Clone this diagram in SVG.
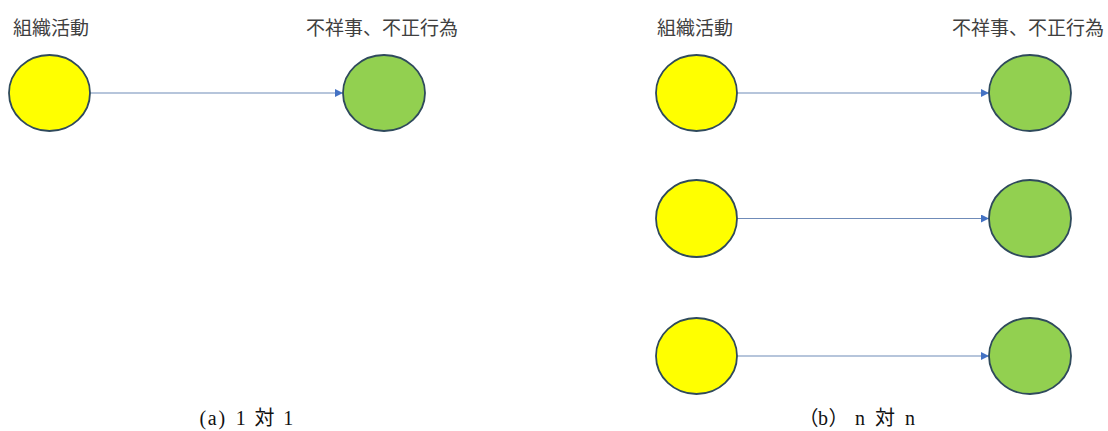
<svg xmlns="http://www.w3.org/2000/svg" width="1108" height="431" viewBox="0 0 1108 431">
<defs>
<style>
.act{fill:#ffff00;stroke:#2f4a5c;stroke-width:1.8}
.bad{fill:#92d050;stroke:#2f4a5c;stroke-width:1.8}
.lbl{font-family:"Noto Sans CJK JP","Noto Sans",sans-serif;font-size:19px;fill:#404040}
.cap{font-family:"Liberation Serif","Noto Sans CJK JP",serif;font-size:20px;fill:#111;text-anchor:middle}
.edge{stroke:#6f8bb8;stroke-width:1.2;fill:none}
</style>
<marker id="arr" viewBox="0 0 10 10" refX="10" refY="5" markerWidth="9" markerHeight="8" markerUnits="userSpaceOnUse" orient="auto">
<path d="M0,0 L10,5 L0,10 Z" fill="#4472c4"/>
</marker>
</defs>
<rect width="1108" height="431" fill="#ffffff"/>
<g id="labels">
<text class="lbl" x="13" y="35">組織活動</text>
<text class="lbl" x="306" y="35">不祥事、不正行為</text>
<text class="lbl" x="657" y="35">組織活動</text>
<text class="lbl" x="952" y="35">不祥事、不正行為</text>
</g>
<g id="connectors">
<line class="edge" x1="90" y1="93" x2="343" y2="93" marker-end="url(#arr)"/>
<line class="edge" x1="737" y1="93" x2="989" y2="93" marker-end="url(#arr)"/>
<line class="edge" x1="737" y1="218.5" x2="989" y2="218.5" marker-end="url(#arr)"/>
<line class="edge" x1="737" y1="356" x2="989" y2="356" marker-end="url(#arr)"/>
</g>
<g id="a-activity"><ellipse class="act" cx="49.5" cy="93" rx="40.5" ry="38"/></g>
<g id="a-misconduct"><ellipse class="bad" cx="384" cy="93" rx="41" ry="38"/></g>
<g id="b-activity-1"><ellipse class="act" cx="696.5" cy="93" rx="40.5" ry="38"/></g>
<g id="b-misconduct-1"><ellipse class="bad" cx="1030" cy="93" rx="41" ry="38"/></g>
<g id="b-activity-2"><ellipse class="act" cx="696.5" cy="218.5" rx="40.5" ry="38.5"/></g>
<g id="b-misconduct-2"><ellipse class="bad" cx="1030" cy="218.5" rx="41" ry="38.5"/></g>
<g id="b-activity-3"><ellipse class="act" cx="696.5" cy="356" rx="40.5" ry="38"/></g>
<g id="b-misconduct-3"><ellipse class="bad" cx="1030" cy="356" rx="41" ry="38"/></g>
<g id="captions">
<text class="cap" x="202.75 212.25 221.75 231.25 240.75 250.25 264.5 278.75 288.25" y="425">(a) 1 対 1</text>
<text class="cap" x="808.6 823 838.5 848 860 872 885 898 910" y="425">（b） n 対 n</text>
</g>
</svg>
